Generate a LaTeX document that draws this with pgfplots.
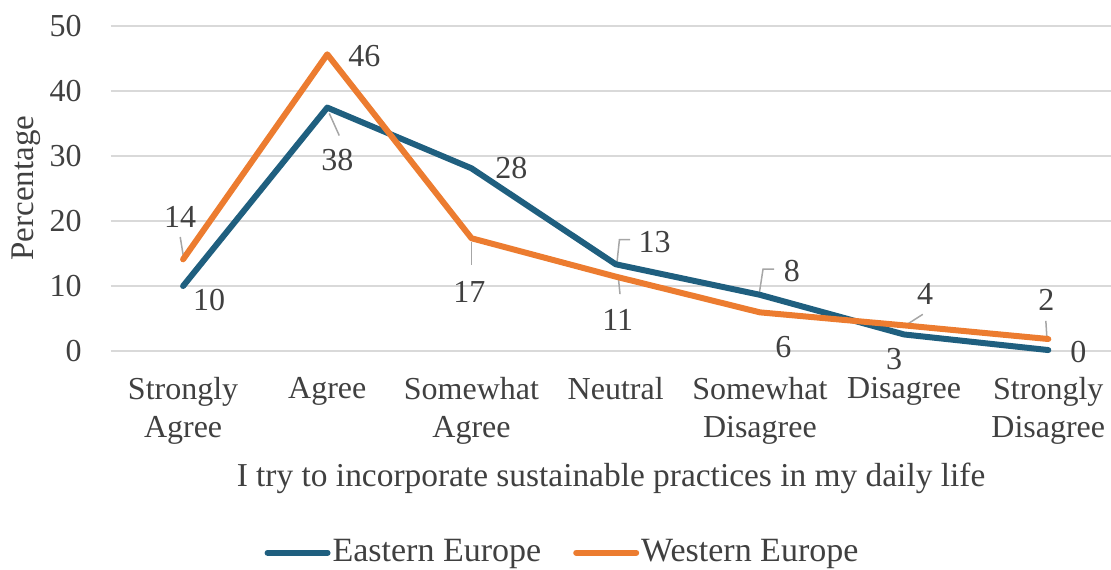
\documentclass[border=0pt]{standalone}
\usepackage{fontspec}
\setmainfont{Liberation Serif}
\usepackage{pgfplots}
\pgfplotsset{compat=1.18}
\usepackage{pgfplotstable}
\definecolor{eastc}{HTML}{1F5F7F}
\definecolor{westc}{HTML}{EC7C30}
\definecolor{txt}{HTML}{404040}
\definecolor{gridc}{HTML}{D9D9D9}
\definecolor{leadc}{HTML}{A6A6A6}

\pgfplotstableread{
x y lbl dx dy
0 9.95 10 13 -7
1 37.4 38 5 -26
2 28.06 28 20 0
3 13.3 13 19.5 11
4 8.6 8 16 12
5 2.5 3 -5 -12.5
6 0.1 0 15 -1
}\east
\pgfplotstableread{
x y lbl dx dy
0 14.06 14 -1.5 21
1 45.6 46 18.5 -1
2 17.3 17 -1 -26.7
3 11.4 11 1 -21.7
4 5.9 6 11.7 -17.2
5 3.9 4 10.5 15.8
6 1.8 2 -1 19.5
}\west

\begin{document}
\fontsize{16}{19}\selectfont
\begin{tikzpicture}
\begin{axis}[
  name=ax,
  scale only axis,
  width=500pt, height=162.5pt,
  xmin=-0.5, xmax=6.435,
  ymin=0, ymax=50,
  ytick={0,10,20,30,40,50},
  xtick={0,1,2,3,4,5,6},
  xticklabels={{Strongly\\Agree},{Agree},{Somewhat\\Agree},{Neutral},{Somewhat\\Disagree},{Disagree},{Strongly\\Disagree}},
  /pgf/number format/assume math mode=true,
  axis line style={draw=none},
  major tick length=0pt,
  ymajorgrids,
  grid style={gridc, line width=0.9pt},
  clip=false,
  tick label style={text=txt, font=\fontsize{16}{19}\selectfont},
  xticklabel style={align=center, anchor=north, yshift=-8pt},
  yticklabel style={anchor=east, inner sep=0pt, xshift=-14.5pt},
  xlabel={I try to incorporate sustainable practices in my daily life},
  xlabel style={at={(axis description cs:0.5,0)}, anchor=base, yshift=-68pt, text=txt, font=\fontsize{16.7}{20}\selectfont},
  ylabel={Percentage},
  ylabel style={at={(axis description cs:-0.085,0.5)}, anchor=center, text=txt, font=\fontsize{16.5}{20}\selectfont},
  legend columns=2,
  legend style={at={(axis description cs:0.4515,-0.6215)}, anchor=center, draw=none, fill=none,
    font=\fontsize{17}{20}\selectfont, text=txt,
    nodes={inner xsep=1pt},
    /tikz/every even column/.append style={column sep=15pt}},
  legend image code/.code={\draw[#1, line cap=round] (0pt,0pt) -- (30pt,0pt);},
  every node near coord/.append style={text=txt, font=\fontsize{16}{19}\selectfont},
]
% leader lines
\addplot[leadc, line width=0.75pt, forget plot] coordinates {(-0.02,17.5) (0.002,14.5)};
\addplot[leadc, line width=0.75pt, forget plot] coordinates {(1.014,36.5) (1.083,33.1)};
\addplot[leadc, line width=0.75pt, forget plot] coordinates {(2.0,16.8) (2.0,13.2)};
\addplot[leadc, line width=0.75pt, forget plot] coordinates {(3.10,17.1) (3.026,17.1) (3.008,13.4)};
\addplot[leadc, line width=0.75pt, forget plot] coordinates {(3.02,10.9) (3.03,8.7)};
\addplot[leadc, line width=0.75pt, forget plot] coordinates {(4.098,12.57) (4.022,12.57) (3.994,8.57)};
\addplot[leadc, line width=0.75pt, forget plot] coordinates {(5.13,5.6) (5.01,3.9)};
\addplot[leadc, line width=0.75pt, forget plot] coordinates {(5.983,4.6) (5.99,2.15)};

\addplot[eastc, line width=3pt, line join=round, line cap=round, no marks,
  nodes near coords, point meta=explicit symbolic,
  visualization depends on={\thisrow{dx}\as\dx},
  visualization depends on={\thisrow{dy}\as\dy},
  every node near coord/.append style={anchor=center, xshift=\dx pt, yshift=\dy pt}]
  table[x=x, y=y, meta=lbl] {\east};
\addlegendentry{Eastern Europe}
\addplot[westc, line width=3pt, line join=round, line cap=round, no marks,
  nodes near coords, point meta=explicit symbolic,
  visualization depends on={\thisrow{dx}\as\dx},
  visualization depends on={\thisrow{dy}\as\dy},
  every node near coord/.append style={anchor=center, xshift=\dx pt, yshift=\dy pt}]
  table[x=x, y=y, meta=lbl] {\west};
\addlegendentry{Western Europe}
\end{axis}
\pgfresetboundingbox
\path[use as bounding box] (ax.south west) ++(-55.5pt,-109.15pt) rectangle ++(555.5pt,284.5pt);
\end{tikzpicture}
\end{document}
